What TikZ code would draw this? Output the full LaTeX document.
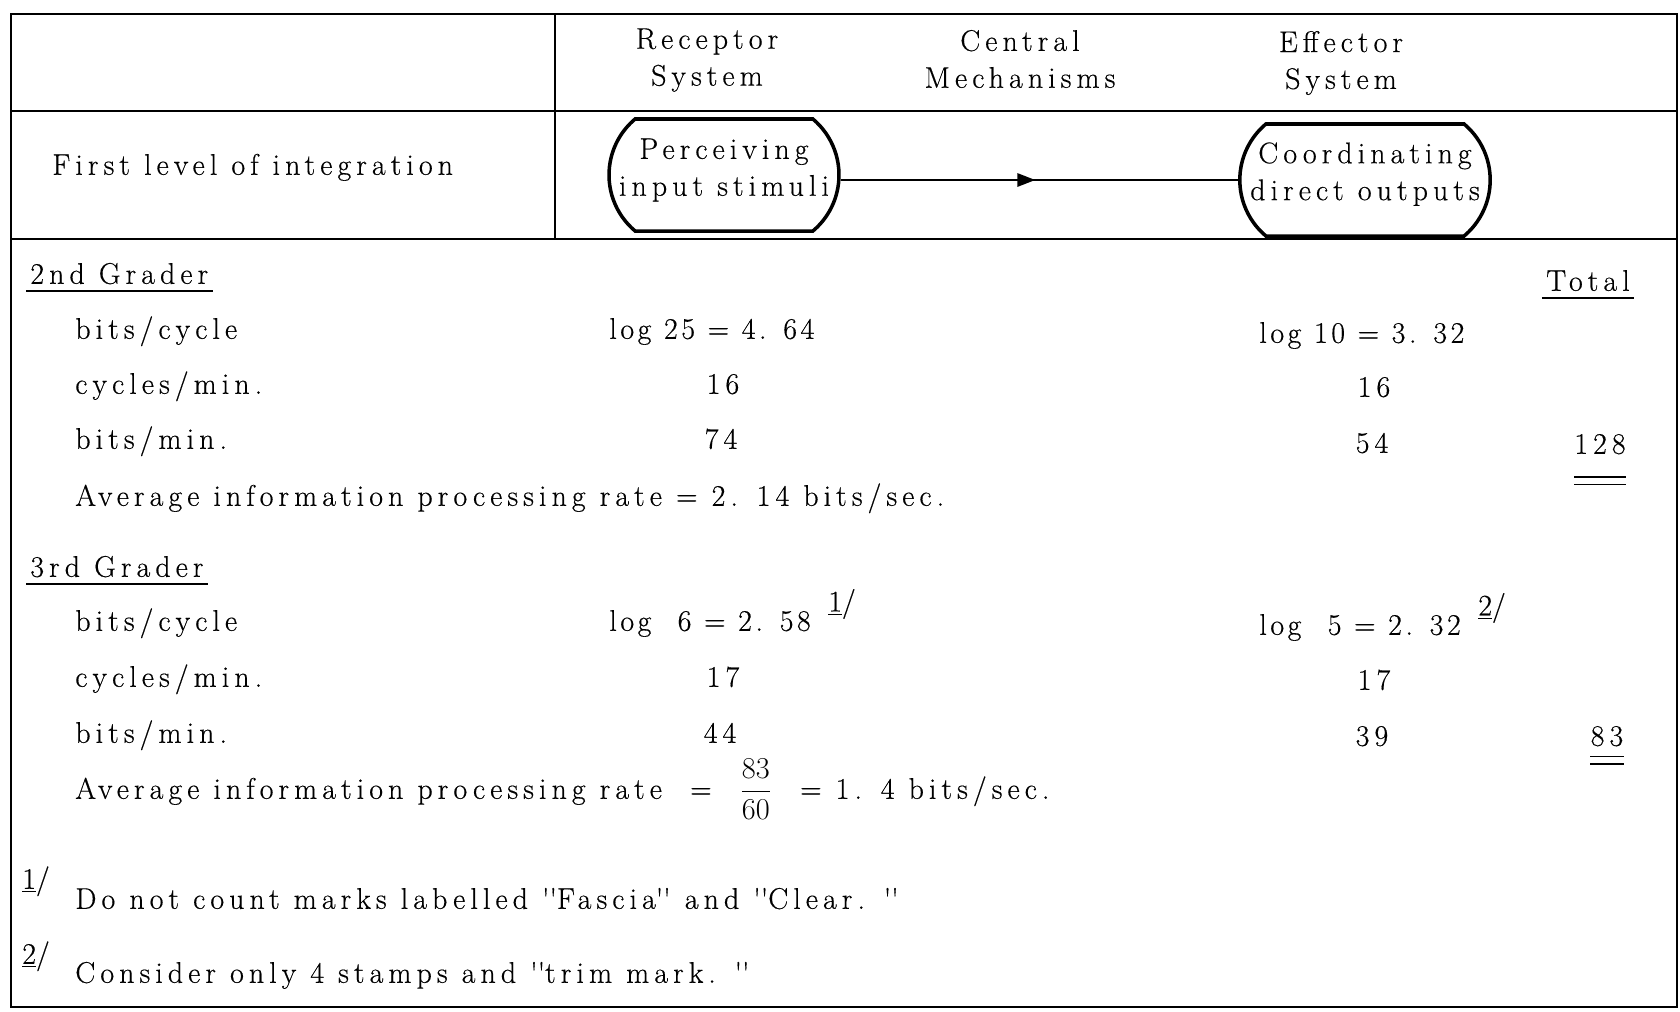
\documentclass[tikz,border=0pt]{standalone}
\usepackage{fontspec}
\setmainfont{Latin Modern Roman}[LetterSpace=17,FakeBold=0.4]
\usepackage{tikz}
\usetikzlibrary{arrows.meta,calc,shapes.misc,decorations.markings}
\tikzset{
  frame/.style={line width=1.6pt},
  head/.style={align=center,inner sep=0pt},
  lab/.style={anchor=mid west,inner xsep=0pt},
  val/.style={lab,font=\fontsize{17}{21}\selectfont\addfontfeature{LetterSpace=12}},
  num/.style={anchor=mid,inner xsep=0pt},
  proc/.style={draw,rounded rectangle,rounded rectangle arc length=100,line width=2pt,
    minimum width=46mm,minimum height=22.4mm,inner sep=0pt,align=center},
  flow/.style={line width=1.6pt,postaction={decorate},
    decoration={markings,mark=at position 0.49 with {\arrow{Triangle[length=3.6mm,width=2.6mm]}}}},
  uline/.style={line width=1.4pt},
  dbl/.style={double,double distance=1.2mm,line width=0.9pt},
}
\newcommand{\fnm}[1]{\underline{#1}/}
\newcommand{\dq}{\textquotesingle\textquotesingle}

\begin{document}
\begin{tikzpicture}[x=0.2mm,y=-0.2mm,font=\fontsize{17}{21}\selectfont]
  \useasboundingbox (0,0) rectangle (1680,1011);
  % table frame
  \draw[frame] (11,14) rectangle (1677,1007);
  \draw[frame] (11,111) -- (1677,111) (11,239) -- (1677,239) (555,14) -- (555,239);
  % column heads
  \node[head] (rec) at (707,60) {Receptor\\System};
  \node[head] (cen) at (1020,59) {Central\\Mechanisms};
  \node[head] (eff) at (1341,63) {Effector\\System};
  % first level
  \node[lab] (lvl) at (52,171) {First level of integration};
  \node[proc] (perc) at (724,175) {Perceiving\\input stimuli\\[-12pt]\mbox{}};
  \node[proc] (coord) at (1365,180) {Coordinating\\direct outputs\\[-11pt]\mbox{}};
  \draw[flow] (perc.east |- coord.west) -- (coord.west);
  % 2nd grader
  \node[lab] (g2) at (30,280) {2nd Grader};
  \draw[uline] ([xshift=-0.8mm,yshift=-1.4mm]g2.base west) -- ([xshift=0.8mm,yshift=-1.4mm]g2.base east);
  \node[num] (tot) at (1588,287) {Total};
  \draw[uline] ([xshift=-0.8mm,yshift=-1.4mm]tot.base west) -- ([xshift=0.8mm,yshift=-1.4mm]tot.base east);
  \node[lab] (bc2) at (75,335) {bits/cycle};
  \node[lab] (cm2) at (75,390) {cycles/min.};
  \node[lab] (bm2) at (75,445) {bits/min.};
  \node[lab] (av2) at (75,502) {Average information processing rate = 2. 14 bits/sec.};
  \node[val] (rb2) at (609,335) {log 25 = 4. 64};
  \node[num] (rc2) at (723,390) {16};
  \node[num] (rm2) at (721,445) {74};
  \node[val] (eb2) at (1259,339) {log 10 = 3. 32};
  \node[num] (ec2) at (1374,393) {16};
  \node[num] (em2) at (1372,449) {54};
  \node[num] (t2) at (1600,450) {128};
  \draw[dbl] ([yshift=-5.4mm]t2.base west) -- ([yshift=-5.4mm]t2.base east);
  % 3rd grader
  \node[lab] (g3) at (30,573) {3rd Grader};
  \draw[uline] ([xshift=-0.8mm,yshift=-1.4mm]g3.base west) -- ([xshift=0.8mm,yshift=-1.4mm]g3.base east);
  \node[lab] (bc3) at (75,627) {bits/cycle};
  \node[lab] (cm3) at (75,683) {cycles/min.};
  \node[lab] (bm3) at (75,739) {bits/min.};
  \node[lab] (av3) at (75,795) {Average information processing rate \ = \ $\displaystyle\frac{83}{60}$ \ = 1. 4 bits/sec.};
  \node[val] (rb3) at (609,627) {log \phantom{2}6 = 2. 58\hspace{10pt}\raisebox{11pt}{\fnm{1}}};
  \node[num] (rc3) at (723,683) {17};
  \node[num] (rm3) at (720,739) {44};
  \node[val] (eb3) at (1259,631) {log \phantom{1}5 = 2. 32\hspace{10pt}\raisebox{11pt}{\fnm{2}}};
  \node[num] (ec3) at (1374,686) {17};
  \node[num] (em3) at (1372,742) {39};
  \node[num] (t3) at (1607,742) {83};
  \draw[dbl] ([yshift=-2.9mm]t3.base west) -- ([yshift=-2.9mm]t3.base east);
  % footnotes
  \node[num] (n1) at (36,885) {\fnm{1}};
  \node[lab] (f1) at (75,905) {Do not count marks labelled \dq Fascia\dq{} and \dq Clear. \dq};
  \node[num] (n2) at (36,960) {\fnm{2}};
  \node[lab] (f2) at (75,979) {Consider only 4 stamps and \dq trim mark. \dq};
\end{tikzpicture}
\end{document}
